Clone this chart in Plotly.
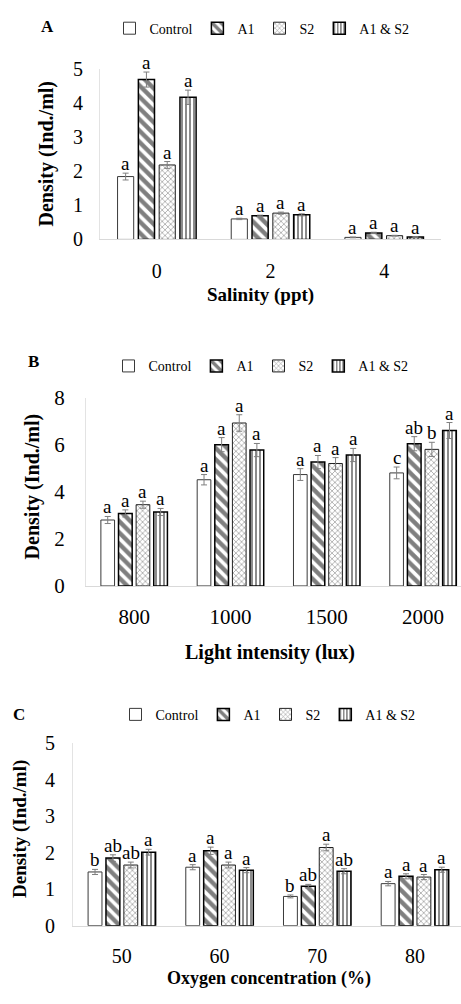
import plotly.graph_objects as go

W, H = 461, 1004
FONT = "Liberation Serif"

series_names = ["Control", "A1", "S2", "A1 & S2"]

# Panel A: salinity
sal_cats = ["0", "2", "4"]
sal_control = [1.84, 0.60, 0.06]
sal_a1 = [4.68, 0.69, 0.19]
sal_s2 = [2.18, 0.77, 0.11]
sal_a1s2 = [4.16, 0.72, 0.07]
sal_control_err = [0.10, 0.02, 0.01]
sal_a1_err = [0.22, 0.02, 0.02]
sal_s2_err = [0.10, 0.03, 0.01]
sal_a1s2_err = [0.21, 0.03, 0.01]
sal_control_lab = ["a", "a", "a"]
sal_a1_lab = ["a", "a", "a"]
sal_s2_lab = ["a", "a", "a"]
sal_a1s2_lab = ["a", "a", "a"]

# Panel B: light intensity
lux_cats = ["800", "1000", "1500", "2000"]
lux_control = [2.80, 4.51, 4.73, 4.80]
lux_a1 = [3.08, 6.00, 5.26, 6.04]
lux_s2 = [3.45, 6.92, 5.20, 5.80]
lux_a1s2 = [3.14, 5.77, 5.56, 6.60]
lux_control_err = [0.15, 0.22, 0.25, 0.25]
lux_a1_err = [0.15, 0.30, 0.28, 0.30]
lux_s2_err = [0.15, 0.35, 0.25, 0.30]
lux_a1s2_err = [0.15, 0.28, 0.28, 0.34]
lux_control_lab = ["a", "a", "a", "c"]
lux_a1_lab = ["a", "a", "a", "ab"]
lux_s2_lab = ["a", "a", "a", "b"]
lux_a1s2_lab = ["a", "a", "a", "a"]

# Panel C: oxygen concentration
oxy_cats = ["50", "60", "70", "80"]
oxy_control = [1.47, 1.60, 0.80, 1.15]
oxy_a1 = [1.85, 2.05, 1.08, 1.35]
oxy_s2 = [1.66, 1.66, 2.14, 1.33]
oxy_a1s2 = [2.01, 1.52, 1.49, 1.53]
oxy_control_err = [0.07, 0.07, 0.04, 0.06]
oxy_a1_err = [0.09, 0.10, 0.05, 0.07]
oxy_s2_err = [0.08, 0.08, 0.09, 0.07]
oxy_a1s2_err = [0.08, 0.07, 0.07, 0.07]
oxy_control_lab = ["b", "a", "b", "a"]
oxy_a1_lab = ["ab", "a", "ab", "a"]
oxy_s2_lab = ["ab", "a", "a", "a"]
oxy_a1s2_lab = ["a", "a", "ab", "a"]

styles = [
    dict(pattern=dict(shape="", bgcolor="white"), line=dict(color="#3a3a3a", width=1)),
    dict(pattern=dict(shape="\\", fgcolor="black", bgcolor="white", size=8, solidity=0.55),
         line=dict(color="black", width=1.5)),
    dict(pattern=dict(shape="x", fgcolor="#222222", bgcolor="white", size=4, solidity=0.3),
         line=dict(color="#222222", width=1)),
    dict(pattern=dict(shape="|", fgcolor="black", bgcolor="white", size=4, solidity=0.45),
         line=dict(color="black", width=1.5)),
]

BAR_W = 0.142
STEP = 0.183


def px_y(p):
    return 1 - p / H


def px_x(p):
    return p / W


panels = [
    dict(key="", legend="legend", cats=sal_cats,
         vals=[sal_control, sal_a1, sal_s2, sal_a1s2],
         errs=[sal_control_err, sal_a1_err, sal_s2_err, sal_a1s2_err],
         labs=[sal_control_lab, sal_a1_lab, sal_s2_lab, sal_a1s2_lab],
         xdom=[px_x(100), px_x(441)], ydom=[px_y(233), px_y(58)],
         xrange=[-0.5, 2.5], yrange=[0, 5], dtick=1, tickfs=20, ystand=12, xstand=14),
    dict(key="2", legend="legend2", cats=lux_cats,
         vals=[lux_control, lux_a1, lux_s2, lux_a1s2],
         errs=[lux_control_err, lux_a1_err, lux_s2_err, lux_a1s2_err],
         labs=[lux_control_lab, lux_a1_lab, lux_s2_lab, lux_a1s2_lab],
         xdom=[px_x(86), 1], ydom=[px_y(588), px_y(395)],
         xrange=[-0.5, -0.5 + (W - 86) / 96.3], yrange=[0, 8], dtick=2, tickfs=21, ystand=16, xstand=12),
    dict(key="3", legend="legend3", cats=oxy_cats,
         vals=[oxy_control, oxy_a1, oxy_s2, oxy_a1s2],
         errs=[oxy_control_err, oxy_a1_err, oxy_s2_err, oxy_a1s2_err],
         labs=[oxy_control_lab, oxy_a1_lab, oxy_s2_lab, oxy_a1s2_lab],
         xdom=[px_x(73), 1], ydom=[px_y(936), px_y(749)],
         xrange=[-0.5, -0.5 + (W - 73) / 97.7], yrange=[0, 5], dtick=1, tickfs=20, ystand=13, xstand=12),
]

fig = go.Figure()
annotations = []
layout_axes = {}

for p in panels:
    k = p["key"]
    xref = "x" + k
    yref = "y" + k
    n = len(p["cats"])
    for j, name in enumerate(series_names):
        xs = [i + (j - 1.5) * STEP for i in range(n)]
        fig.add_trace(go.Bar(
            x=xs, y=p["vals"][j], width=BAR_W, name=name,
            xaxis=xref, yaxis=yref, legend=p["legend"],
            marker=dict(color="white", pattern=styles[j]["pattern"], line=styles[j]["line"]),
            error_y=dict(type="data", array=p["errs"][j], color="#7f7f7f", thickness=1, width=3),
            hoverinfo="skip",
        ))
        for i in range(n):
            annotations.append(dict(
                x=xs[i], y=p["vals"][j][i] + p["errs"][j][i], xref=xref, yref=yref,
                text=p["labs"][j][i], showarrow=False, yanchor="bottom", yshift=-3,
                font=dict(family=FONT, size=19, color="black"),
            ))
    xa = "xaxis" + k
    ya = "yaxis" + k
    layout_axes[xa] = dict(
        domain=p["xdom"], range=p["xrange"], anchor=yref,
        tickmode="array", tickvals=list(range(n)), ticktext=p["cats"],
        showline=True, linecolor="#d9d9d9", linewidth=1, ticks="", showgrid=False, zeroline=False,
        ticklabelstandoff=p["xstand"], tickfont=dict(family=FONT, size=p["tickfs"], color="black"),
        fixedrange=True,
    )
    layout_axes[ya] = dict(
        domain=p["ydom"], range=p["yrange"], anchor=xref, dtick=p["dtick"],
        showline=True, linecolor="#e3e3e3", linewidth=1, ticks="", showgrid=False, zeroline=False,
        ticklabelstandoff=p["ystand"], tickfont=dict(family=FONT, size=p["tickfs"], color="black"),
        fixedrange=True,
    )


def txt(text, x, y, size, angle=0):
    return dict(text=text, x=px_x(x), y=px_y(y), xref="paper", yref="paper", showarrow=False,
                xanchor="center", yanchor="middle", textangle=angle,
                font=dict(family=FONT, size=size, color="black"))


annotations += [
    txt("<b>A</b>", 47, 15, 17),
    txt("<b>B</b>", 33, 358, 17),
    txt("<b>C</b>", 19, 720, 17),
    txt("<b>Density (Ind./ml)</b>", 47, 145, 20, -90),
    txt("<b>Density (Ind./ml)</b>", 32, 486, 20, -90),
    txt("<b>Density (Ind./ml)</b>", 20, 837, 19, -90),
    txt("<b>Salinity (ppt)</b>", 260, 290, 19),
    txt("<b>Light intensity (lux)</b>", 270, 656, 20),
    txt("<b>Oxygen concentration (%)</b>", 269, 990, 18),
]

legend_common = dict(orientation="h", xanchor="center", yanchor="middle", itemwidth=30,
                     font=dict(family=FONT, size=14, color="black"), bgcolor="rgba(0,0,0,0)",
                     itemclick=False, itemdoubleclick=False, tracegroupgap=0)

fig.update_layout(
    width=W, height=H, margin=dict(l=0, r=0, t=0, b=0),
    paper_bgcolor="white", plot_bgcolor="white",
    barmode="overlay", showlegend=True,
    legend=dict(x=px_x(262), y=px_y(17), **legend_common),
    legend2=dict(x=px_x(261), y=px_y(363), **legend_common),
    legend3=dict(x=px_x(268), y=px_y(720), **legend_common),
    annotations=annotations,
    **layout_axes,
)

fig.write_html("out.html")
